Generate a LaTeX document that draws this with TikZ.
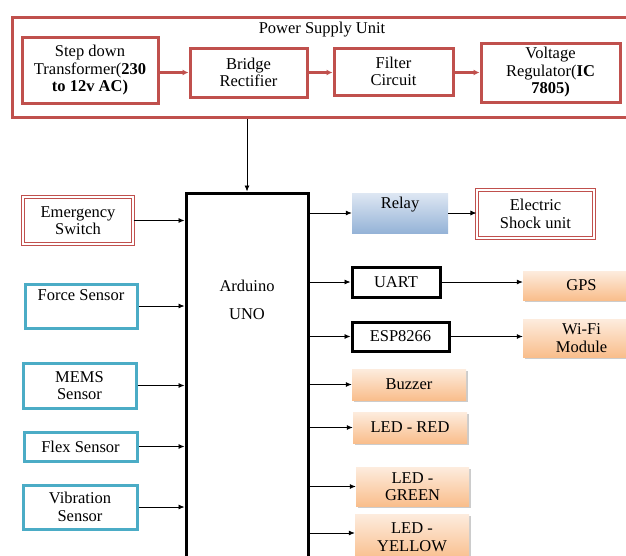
\documentclass[tikz,border=0pt]{standalone}
\usepackage{fontspec}
\setmainfont{Liberation Serif}
\usepackage{xcolor}
\usetikzlibrary{arrows.meta,shadows}

\definecolor{psured}{RGB}{192,80,77}
\definecolor{sensorcyan}{RGB}{75,172,198}
\definecolor{relaytop}{RGB}{222,231,243}
\definecolor{relaybot}{RGB}{149,179,215}
\definecolor{outtop}{RGB}{253,236,222}
\definecolor{outbot}{RGB}{249,190,140}

\begin{document}
\begin{tikzpicture}[x=1pt, y=-1pt,
    every node/.style={font=\fontsize{16.5}{17.5}\selectfont, align=center, inner sep=0pt},
    psubox/.style={draw=psured, line width=3pt, fill=white},
    sensorbox/.style={draw=sensorcyan, line width=3pt, fill=white},
    dblbox/.style={draw=psured, line width=1.1pt, double=white, double distance=1.8pt},
    blackbox/.style={draw=black, line width=3pt, fill=white},
    relaybox/.style={top color=relaytop, bottom color=relaybot, draw=none},
    outbox/.style={top color=outtop, bottom color=outbot, draw=none,
        drop shadow={shadow xshift=1.5pt, shadow yshift=-1.5pt, fill=black, opacity=0.2}},
    arr/.style={-{Latex[length=6pt,width=5pt]}, line width=0.8pt},
    redarr/.style={-{Latex[length=6pt,width=6pt]}, line width=2.4pt, draw=psured}
]
    \useasboundingbox (0,0) rectangle (626,555);
    \clip (0,0) rectangle (626,555);

    % Power supply chain (top)
    \node[psubox, minimum width=618pt, minimum height=100pt] (psu) at (321,67) {};
    \node (psutitle) at (322,30) {Power Supply Unit};
    \node[psubox, minimum width=136pt, minimum height=66pt] (stepdown) at (90,70.5)
        {Step down\\Transformer(\textbf{230}\\\textbf{to 12v AC)}};
    \node[psubox, minimum width=117pt, minimum height=49pt] (bridge) at (248.5,72.5)
        {Bridge\\Rectifier};
    \node[psubox, minimum width=119pt, minimum height=47pt] (filter) at (393.5,71.5)
        {Filter\\Circuit};
    \node[psubox, minimum width=139pt, minimum height=59pt] (regulator) at (550.5,72.5)
        {Voltage\\Regulator(\textbf{IC}\\\textbf{7805)}};

    \draw[redarr] (stepdown.east |- bridge) -- (bridge.west);
    \draw[redarr] (bridge.east) -- (bridge.east -| filter.west);
    \draw[redarr] (filter.east |- bridge) -- (bridge -| regulator.west);

    % Controller
    \node[blackbox, minimum width=122pt, minimum height=427pt] (ard) at (247,406.5) {};
    \node (ardtxt) at (247,300) {Arduino\\[10pt]UNO};
    \draw[arr] (psu.south -| ard.north) -- (ard.north);

    % Inputs (left)
    \node[dblbox, minimum width=110pt, minimum height=47pt] (emerg) at (78,220.5)
        {Emergency\\Switch};
    \node[sensorbox, minimum width=112pt, minimum height=44pt] (force) at (81,306)
        {Force Sensor\\\strut};
    \node[sensorbox, minimum width=113pt, minimum height=45pt] (mems) at (79.5,385.5)
        {MEMS\\Sensor};
    \node[sensorbox, minimum width=113pt, minimum height=29pt] (flex) at (80.5,446.5)
        {Flex Sensor};
    \node[sensorbox, minimum width=114pt, minimum height=44pt] (vib) at (80,507)
        {Vibration\\Sensor};

    \draw[arr] (emerg.east) -- (emerg.east -| ard.west);
    \draw[arr] (force.east) -- (force.east -| ard.west);
    \draw[arr] (mems.east) -- (mems.east -| ard.west);
    \draw[arr] (flex.east) -- (flex.east -| ard.west);
    \draw[arr] (vib.east) -- (vib.east -| ard.west);

    % Outputs (right)
    \node[relaybox, minimum width=96pt, minimum height=40pt] (relay) at (400,213)
        {Relay\\[-2pt]\strut};
    \node[dblbox, minimum width=117pt, minimum height=48pt] (shock) at (535.5,214)
        {Electric\\Shock unit};
    \node[blackbox, minimum width=88pt, minimum height=30pt] (uart) at (396,282) {UART};
    \node[outbox, minimum width=117pt, minimum height=29pt] (gps) at (581.5,285.5) {GPS};
    \node[blackbox, minimum width=97pt, minimum height=29pt] (esp) at (400.5,336.5) {ESP8266};
    \node[outbox, minimum width=117pt, minimum height=38pt] (wifi) at (581.5,338)
        {Wi-Fi\\Module};
    \node[outbox, minimum width=114pt, minimum height=31pt] (buzzer) at (409,384.5) {Buzzer};
    \node[outbox, minimum width=114pt, minimum height=31pt] (ledred) at (410,427.5) {LED - RED};
    \node[outbox, minimum width=113pt, minimum height=39pt] (ledgreen) at (412.5,486.5)
        {LED -\\GREEN};
    \node[outbox, minimum width=114pt, minimum height=46pt] (ledyellow) at (412,537)
        {LED -\\YELLOW};

    \draw[arr] (ard.east |- relay) -- (relay.west);
    \draw[arr] (relay.east) -- (relay.east -| shock.west);
    \draw[arr] (ard.east |- uart) -- (uart.west);
    \draw[arr] (uart.east) -- (uart.east -| gps.west);
    \draw[arr] (ard.east |- esp) -- (esp.west);
    \draw[arr] (esp.east) -- (esp.east -| wifi.west);
    \draw[arr] (ard.east |- buzzer) -- (buzzer.west);
    \draw[arr] (ard.east |- ledred) -- (ledred.west);
    \draw[arr] (ard.east |- ledgreen) -- (ledgreen.west);
    \draw[arr] (ard.east |- 0,533) -- (ledyellow.west |- 0,533);

\end{tikzpicture}
\end{document}
